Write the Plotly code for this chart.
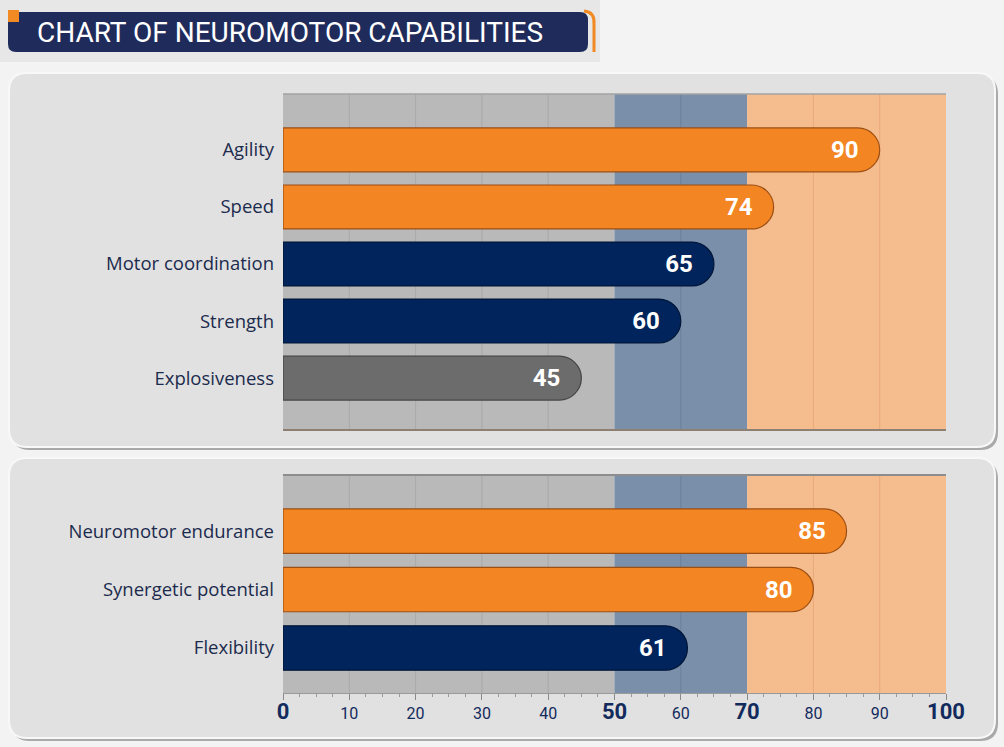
import plotly.graph_objects as go

W, H = 1004, 747

# data
top_cats = ["Agility", "Speed", "Motor coordination", "Strength", "Explosiveness"]
top_vals = [90, 74, 65, 60, 45]
top_cols = ["orange", "orange", "navy", "navy", "gray"]

bot_cats = ["Neuromotor endurance", "Synergetic potential", "Flexibility"]
bot_vals = [85, 80, 61]
bot_cols = ["orange", "orange", "navy"]

tick_vals = [0, 10, 20, 30, 40, 50, 60, 70, 80, 90, 100]
big_ticks = [0, 50, 70, 100]

bands = [(0, 50, "#b9b9b9", "#a9a9a9"), (50, 70, "#7a8fa9", "#6c819c"), (70, 100, "#f5bc8d", "#e9aa7a")]

fill = {"orange": "#f38523", "navy": "#00245b", "gray": "#6c6c6c"}
edge = {"orange": "#9c4f14", "navy": "#001638", "gray": "#454545"}


def px_x(v):
    return v / W


def px_y(v):
    return 1 - v / H


def rrect(x0, y0, x1, y1, r):
    # rounded rectangle in pixel coords -> paper path
    pts = (f"M {px_x(x0 + r)} {px_y(y0)} L {px_x(x1 - r)} {px_y(y0)} "
           f"Q {px_x(x1)} {px_y(y0)} {px_x(x1)} {px_y(y0 + r)} "
           f"L {px_x(x1)} {px_y(y1 - r)} Q {px_x(x1)} {px_y(y1)} {px_x(x1 - r)} {px_y(y1)} "
           f"L {px_x(x0 + r)} {px_y(y1)} Q {px_x(x0)} {px_y(y1)} {px_x(x0)} {px_y(y1 - r)} "
           f"L {px_x(x0)} {px_y(y0 + r)} Q {px_x(x0)} {px_y(y0)} {px_x(x0 + r)} {px_y(y0)} Z")
    return pts


pad = "\u00a0\u00a0"
val_font = dict(family="Roboto", size=24, color="white", weight="bold")

fig = go.Figure()

fig.add_trace(go.Bar(
    y=top_cats, x=top_vals, orientation="h", width=0.77,
    marker=dict(color=[fill[c] for c in top_cols], cornerradius=22,
                line=dict(color=[edge[c] for c in top_cols], width=1.2)),
    text=[f"{v}{pad}" for v in top_vals], textposition="inside", insidetextanchor="end",
    textfont=val_font, xaxis="x2", yaxis="y2", cliponaxis=False, hoverinfo="skip",
))
fig.add_trace(go.Bar(
    y=bot_cats, x=bot_vals, orientation="h", width=0.76,
    marker=dict(color=[fill[c] for c in bot_cols], cornerradius=22,
                line=dict(color=[edge[c] for c in bot_cols], width=1.2)),
    text=[f"{v}{pad}" for v in bot_vals], textposition="inside", insidetextanchor="end",
    textfont=val_font, xaxis="x", yaxis="y", cliponaxis=False, hoverinfo="skip",
))

shapes = []
# page background pieces
shapes.append(dict(type="rect", xref="paper", yref="paper", x0=0, x1=px_x(600), y0=px_y(62), y1=1,
                   fillcolor="#e7e7e7", line_width=0, layer="below"))
# panels with shadow
for (y0, y1) in [(73, 447), (458, 738)]:
    shapes.append(dict(type="path", xref="paper", yref="paper", path=rrect(12, y0 + 3, 998, y1 + 3, 18),
                       fillcolor="#a9a9a9", line_width=0, layer="below"))
    shapes.append(dict(type="path", xref="paper", yref="paper", path=rrect(9, y0, 995, y1, 18),
                       fillcolor="#e1e1e1", line=dict(color="#f8f8f8", width=2), layer="below"))

# title banner
shapes.append(dict(type="path", xref="paper", yref="paper", path=rrect(8, 12, 588, 52, 8),
                   fillcolor="#1f2c5b", line_width=0))
shapes.append(dict(type="rect", xref="paper", yref="paper", x0=px_x(8), x1=px_x(19), y0=px_y(22), y1=px_y(10),
                   fillcolor="#f28a24", line_width=0))
shapes.append(dict(type="path", xref="paper", yref="paper",
                   path=f"M {px_x(584)} {px_y(11)} Q {px_x(595)} {px_y(12)} {px_x(594)} {px_y(24)} L {px_x(594)} {px_y(52)}",
                   line=dict(color="#f28a24", width=3)))

# bands and grid in both plots
for xr, yr in [("x", "y domain"), ("x2", "y2 domain")]:
    for a, b, c, g in bands:
        shapes.append(dict(type="rect", xref=xr, yref=yr, x0=a, x1=b, y0=0, y1=1,
                           fillcolor=c, line_width=0, layer="below"))
        for t in tick_vals:
            if a < t < b:
                shapes.append(dict(type="line", xref=xr, yref=yr, x0=t, x1=t, y0=0, y1=1,
                                   line=dict(color=g, width=1), layer="below"))
shapes.append(dict(type="line", xref="x2", yref="y2 domain", x0=0, x1=100, y0=0, y1=0,
                   line=dict(color="#8d7f72", width=2), layer="below"))
shapes.append(dict(type="line", xref="x2", yref="y2 domain", x0=0, x1=100, y0=1, y1=1,
                   line=dict(color="#a3a3a3", width=1.5), layer="below"))
shapes.append(dict(type="line", xref="x", yref="y domain", x0=0, x1=100, y0=1, y1=1,
                   line=dict(color="#8d8d8d", width=2), layer="below"))


def tick_label(v):
    if v in big_ticks:
        return f"<span style='font-size:22px'><b>{v}</b></span>"
    return f"{v}"


xdom = [px_x(283), px_x(946)]
cat_font = dict(family="Open Sans", size=18.5, color="#1b2b4d")

fig.update_layout(
    width=W, height=H, margin=dict(l=0, r=0, t=0, b=0, pad=0), autosize=False,
    paper_bgcolor="#f3f3f3", plot_bgcolor="rgba(0,0,0,0)",
    showlegend=False, shapes=shapes, barmode="overlay",
    xaxis=dict(domain=xdom, range=[0, 100], anchor="y", showgrid=False, zeroline=False, automargin=False,
               showline=True, linecolor="#9a9a9a", linewidth=1,
               ticks="outside", ticklen=6, tickcolor="#8a8a8a",
               tickvals=tick_vals, ticktext=[tick_label(v) for v in tick_vals],
               tickfont=dict(family="Roboto", size=16, color="#132a5c"),
               minor=dict(dtick=2.5, ticks="outside", ticklen=3, tickcolor="#9a9a9a")),
    yaxis=dict(domain=[px_y(693), px_y(475)], anchor="x", categoryorder="array", categoryarray=bot_cats,
               range=[2.77, -0.96], showgrid=False, zeroline=False, ticks="", automargin=False,
               tickfont=cat_font, ticklabelstandoff=8),
    xaxis2=dict(domain=xdom, range=[0, 100], anchor="y2", showgrid=False, zeroline=False,
                showticklabels=False, ticks="", automargin=False),
    yaxis2=dict(domain=[px_y(430), px_y(94)], anchor="x2", categoryorder="array", categoryarray=top_cats,
                range=[4.91, -0.98], showgrid=False, zeroline=False, ticks="", automargin=False,
                tickfont=cat_font, ticklabelstandoff=8),
    annotations=[dict(text="CHART OF NEUROMOTOR CAPABILITIES", xref="paper", yref="paper",
                      x=px_x(35), y=px_y(33), xanchor="left", yanchor="middle", showarrow=False,
                      font=dict(family="Roboto", size=28, color="white"))],
)

fig.write_html(
    "out.html",
    config={"displayModeBar": False},
    post_script="document.documentElement.style.margin='0';document.documentElement.style.overflow='hidden';"
                "document.body.style.margin='0';document.body.style.overflow='hidden';"
                "document.body.style.background='#f3f3f3';",
)
